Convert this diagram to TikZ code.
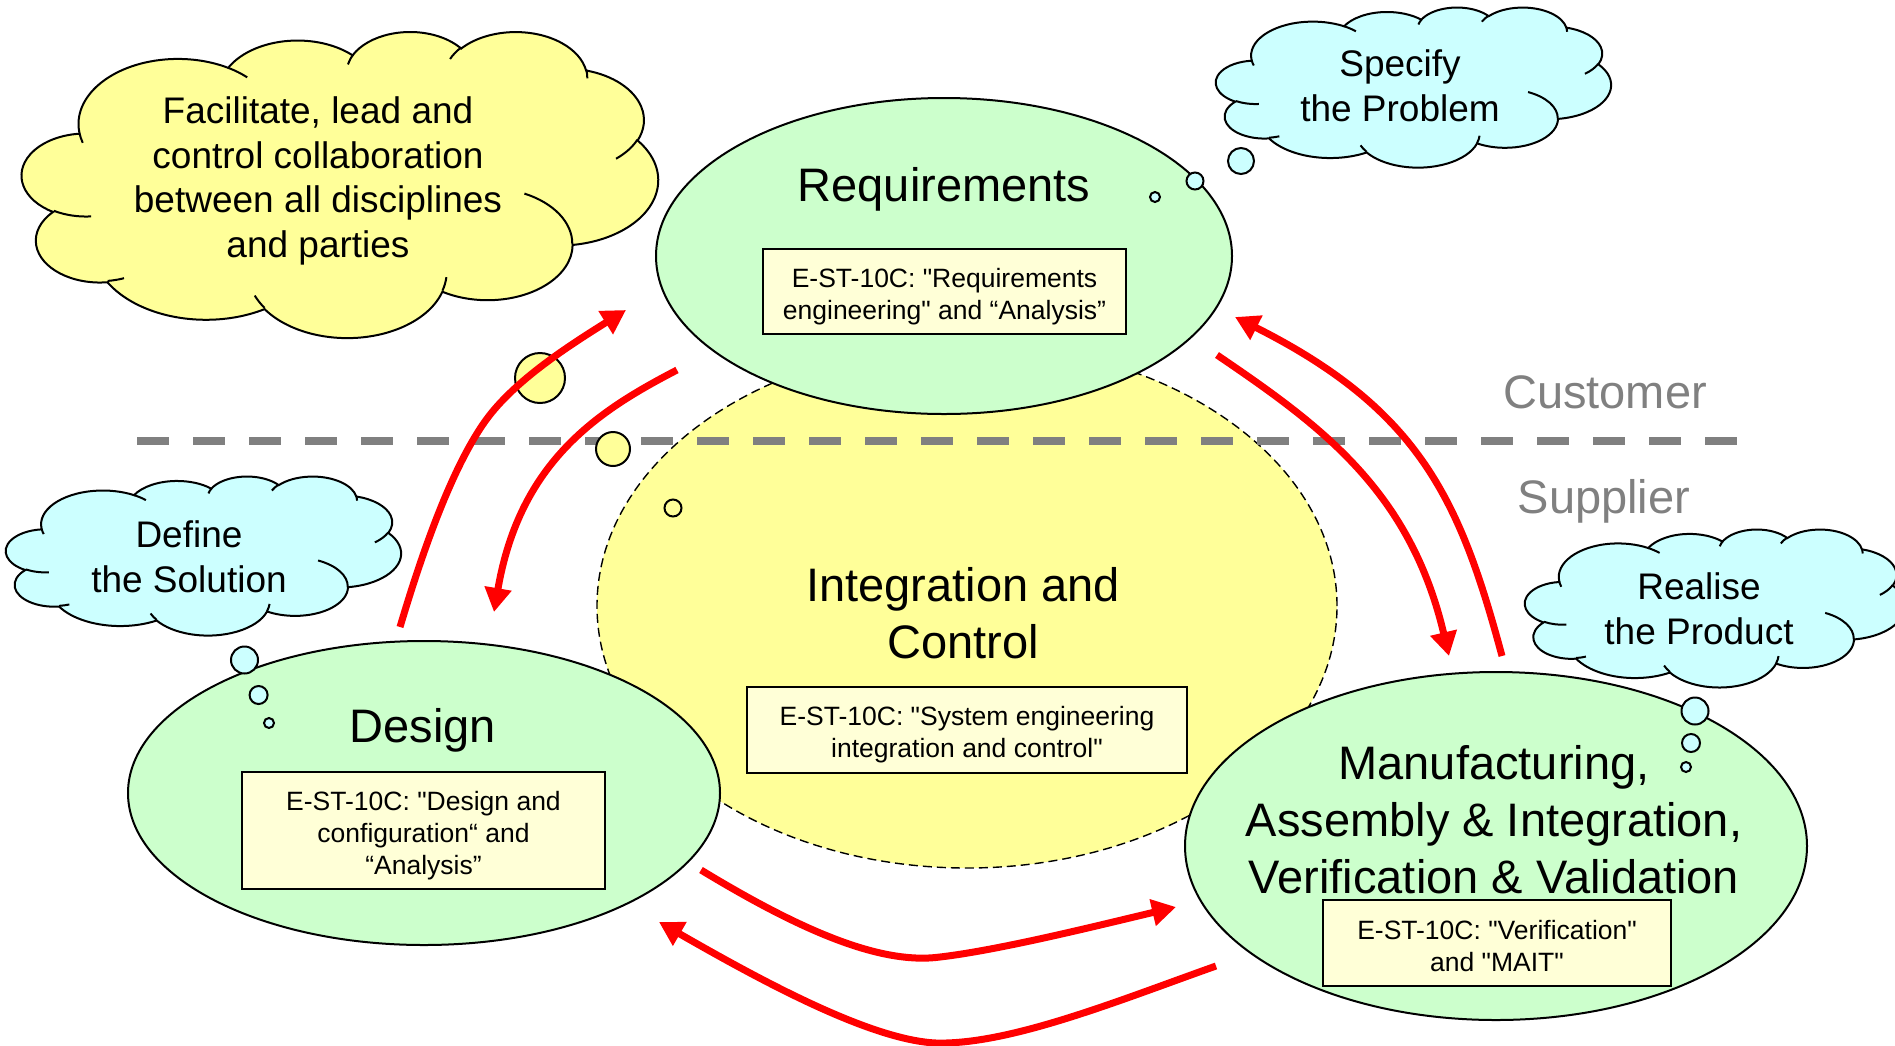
\documentclass[tikz,border=0pt]{standalone}
\usepackage{fontspec}
\setmainfont{Liberation Sans}[Ligatures=TeXOff]
\usetikzlibrary{shapes.geometric,arrows.meta}
\definecolor{cloudyellow}{HTML}{FFFF99}
\definecolor{cloudcyan}{HTML}{CCFFFF}
\definecolor{ellgreen}{HTML}{CCFFCC}
\definecolor{ellyellow}{HTML}{FFFF99}
\definecolor{boxyellow}{HTML}{FFFFD7}
\definecolor{linegray}{HTML}{808080}
\definecolor{arrowred}{HTML}{FF0000}
\newcommand\mainfs{\fontsize{23.5}{28.5}\selectfont}
\newcommand\cloudfs{\fontsize{18.5}{22.3}\selectfont}
\newcommand\boxfs{\fontsize{13.25}{16}\selectfont}
\newcommand\carc[4]{arc[x radius=#1, y radius=#2, start angle={atan2(#1*sin(#3),#2*cos(#3))}, delta angle={mod(atan2(#1*sin(#3+#4),#2*cos(#3+#4))-atan2(#1*sin(#3),#2*cos(#3))+720,360)}]}
\newcommand\cloudouter{(390,1437) \carc{675.3}{919}{-190.48748}{123.78053} \carc{533.3}{726.7}{-144.10238}{89.94523} \carc{436.5}{594.5}{-145.80792}{99.72302} \carc{485.7}{659.5}{-130.98607}{117.24173} \carc{533.3}{727.3}{-78.70888}{109.02692} \carc{677.5}{922}{-46.26725}{130.269} \carc{578.5}{786.7}{0.62502}{114.03333} \carc{675.2}{921.5}{22.4516}{115.17255} \carc{772}{1054.3}{66.24263}{75.71102} \carc{436}{591.8}{-274.94208}{146.73557} \carc{434.5}{594.5}{-246.8285}{152.51885} -- cycle}
\newcommand\cloudinner{(469.3,2617.7) \carc{434.5}{594.5}{86.742}{26.4295} (692.8,3489.9) \carc{436}{591.8}{73.61047}{11.44747} (1647.8,3909) \carc{675.2}{921.5}{137.62415}{14.0811} (2882.7,3475.1) \carc{675.2}{921.5}{6.45327}{15.99835} (3412.9,2295.4) \carc{578.5}{786.7}{-70.29235}{70.91737} (4179.8,1535.4) \carc{533.3}{727.3}{30.31803}{27.7515} (3832.4,542.6) \carc{485.7}{659.5}{-13.74433}{14.8589} (2907.8,395.2) \carc{485.7}{659.5}{-149.18145}{18.19537} (2214.1,472) \carc{436.5}{594.5}{-163.49427}{17.68635} (1400,519.2) \carc{675.3}{919}{-66.70695}{12.31935} (412.7,1578.9) \carc{675.3}{919}{157.65435}{11.85817}}
\newcommand\pptcloud[5]{%
  \begin{scope}[shift={(#1,#2)}, x=#3pt, y=-#4pt]
    \filldraw[cloudline, fill=#5] \cloudouter;
    \draw[cloudline] \cloudinner;
  \end{scope}}
\begin{document}
\begin{tikzpicture}[x=0.5pt, y=-0.5pt,
  ell/.style={ellipse, draw=black, line width=1pt, inner sep=0pt},
  stdbox/.style={rectangle, draw=black, line width=0.9pt, fill=boxyellow, inner sep=0pt},
  boxtxt/.style={inner sep=0pt, align=center, font=\boxfs},
  bubble/.style={circle, draw=black, line width=1pt, inner sep=0pt},
  cloudline/.style={draw=black, line width=1pt},
  mainlbl/.style={inner sep=0pt, align=center, font=\mainfs},
  sidelbl/.style={inner sep=0pt, font=\mainfs, text=linegray},
  cloudtxt/.style={inner sep=0pt, align=center, font=\cloudfs},
  redarrow/.style={draw=arrowred, line width=3.5pt, -{Triangle[length=12pt,width=13pt]}},
  sepline/.style={draw=linegray, line width=4pt, dash pattern=on 16pt off 12pt}]
\useasboundingbox (0,0) rectangle (1895,1045);
\clip (0,0) rectangle (1895,1045);
\fill[white] (0,0) rectangle (1895,1045);

% central ellipse
\node[ellipse, draw=black, line width=0.7pt, dash pattern=on 4.5pt off 2.5pt, fill=ellyellow, inner sep=0pt, minimum width=370pt, minimum height=262pt] (integ) at (967,606) {};
% green ellipses
\node[ell, fill=ellgreen, minimum width=288pt, minimum height=158pt] (req) at (944,256) {};
\node[ell, fill=ellgreen, minimum width=296pt, minimum height=152pt] (design) at (424,793) {};
\node[ell, fill=ellgreen, minimum width=311pt, minimum height=174pt] (mait) at (1496,846) {};

% boxes
\node[stdbox, minimum width=181.5pt, minimum height=42.5pt] (reqbox) at (944.5,291.5) {};
\node[boxtxt] (reqboxtxt) at (944.5,296.5) {E-ST-10C: "Requirements\\engineering" and “Analysis”};
\node[stdbox, minimum width=220pt, minimum height=42.75pt] (integbox) at (967,730) {};
\node[boxtxt] (integboxtxt) at (967,735) {E-ST-10C: "System engineering\\integration and control"};
\node[stdbox, minimum width=181.5pt, minimum height=58.5pt] (designbox) at (423.5,830.5) {};
\node[boxtxt] (designboxtxt) at (423.5,835.5) {E-ST-10C: "Design and\\configuration“ and\\“Analysis”};
\node[stdbox, minimum width=174pt, minimum height=42.75pt] (maitbox) at (1497,943) {};
\node[boxtxt] (maitboxtxt) at (1497,946) {E-ST-10C: "Verification"\\and "MAIT"};

% customer / supplier separation
\coordinate (sepL) at (137,441);
\coordinate (sepR) at (1737,441);
\draw[sepline] (sepL) -- (sepR);
\node[sidelbl, anchor=base] (cust) at (1605,408) {Customer};
\node[sidelbl, anchor=base] (supp) at (1604,513) {Supplier};

% clouds
\pptcloud{22}{31}{0.073611}{0.035417}{cloudyellow}
\pptcloud{1216}{7}{0.045718}{0.018519}{cloudcyan}
\pptcloud{6}{476}{0.045718}{0.018403}{cloudcyan}
\pptcloud{1525}{529}{0.043981}{0.018287}{cloudcyan}

% thought bubbles
\node[bubble, fill=cloudyellow, minimum size=25pt] (yb1) at (540,378) {};
\node[bubble, fill=cloudyellow, minimum size=17pt] (yb2) at (613,449) {};
\node[bubble, fill=cloudyellow, minimum size=8.5pt] (yb3) at (673,508) {};
\node[bubble, fill=cloudcyan, minimum size=13pt] (sb1) at (1241,161) {};
\node[bubble, fill=cloudcyan, minimum size=8.5pt] (sb2) at (1195,181) {};
\node[bubble, fill=cloudcyan, minimum size=5pt] (sb3) at (1155,197) {};
\node[bubble, fill=cloudcyan, minimum size=13.5pt] (db1) at (244.5,660) {};
\node[bubble, fill=cloudcyan, minimum size=9pt] (db2) at (258.6,695) {};
\node[bubble, fill=cloudcyan, minimum size=5pt] (db3) at (269,723) {};
\node[bubble, fill=cloudcyan, minimum size=13.5pt] (rb1) at (1695,711) {};
\node[bubble, fill=cloudcyan, minimum size=9pt] (rb2) at (1691,743) {};
\node[bubble, fill=cloudcyan, minimum size=5pt] (rb3) at (1686,767) {};

% cloud texts
\node[cloudtxt] (facil) at (318,181) {Facilitate, lead and\\control collaboration\\between all disciplines\\and parties};
\node[cloudtxt] (specify) at (1400,86) {Specify\\the Problem};
\node[cloudtxt] (definetxt) at (189,556.5) {Define\\the Solution};
\node[cloudtxt] (realise) at (1699,609) {Realise\\the Product};

% main labels
\node[mainlbl, anchor=base] (reqlbl) at (944,201) {Requirements};
\node[mainlbl, anchor=base] (designlbl) at (423,742) {Design};
\node[mainlbl] (integlbl) at (963,613) {Integration and\\Control};
\node[mainlbl] (maitlbl) at (1494,820) {Manufacturing,\\Assembly \& Integration,\\Verification \& Validation};

% arrow end points
\coordinate (dr-s) at (400,627);
\coordinate (dr-e) at (626,310);
\coordinate (rd-s) at (677,370);
\coordinate (rd-e) at (494,612);
\coordinate (rm-s) at (1217,355);
\coordinate (rm-e) at (1449,656);
\coordinate (mr-s) at (1502,656);
\coordinate (mr-e) at (1235,317);
\coordinate (dm-s) at (701,870);
\coordinate (dm-e) at (1176,907);
\coordinate (md-s) at (1216,966);
\coordinate (md-e) at (659,922);

\draw[redarrow] (dr-s) .. controls (420,560) and (450,470) .. (486,420) .. controls (515,380) and (570,345) .. (dr-e);
\draw[redarrow] (rd-s) .. controls (600,410) and (520,460) .. (rd-e);
\draw[redarrow] (rm-s) .. controls (1320,425) and (1410,490) .. (rm-e);
\draw[redarrow] (mr-s) .. controls (1460,500) and (1420,410) .. (mr-e);
\draw[redarrow] (dm-s) .. controls (800,930) and (880,965) .. (940,957) .. controls (1000,950) and (1100,925) .. (dm-e);
\draw[redarrow] (md-s) .. controls (1120,1000) and (1010,1045) .. (936,1043) .. controls (870,1040) and (760,980) .. (md-e);
\end{tikzpicture}
\end{document}
